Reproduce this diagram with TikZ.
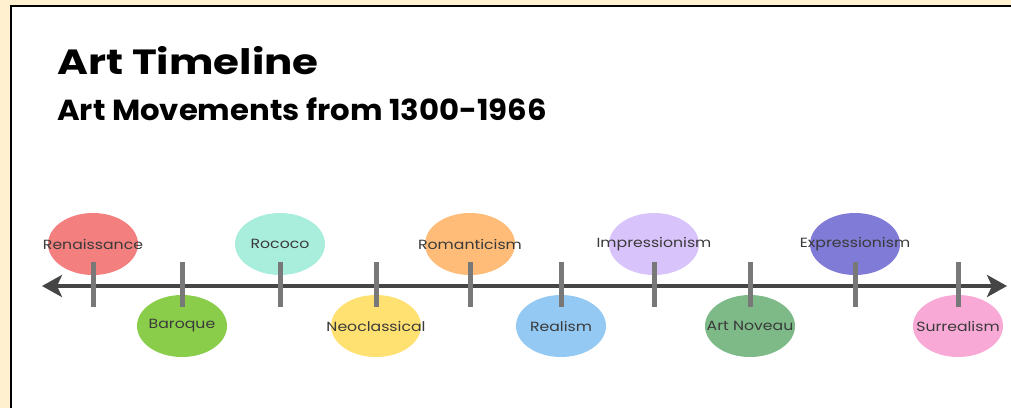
\documentclass[tikz,border=0pt]{standalone}
\usepackage{fontspec}
\setmainfont{Poppins}
\newfontfamily\lblfont[FakeStretch=1.18]{Poppins}
\newfontfamily\ttlfont[FakeStretch=1.2]{Poppins}
\newfontfamily\subfont[FakeStretch=1.06]{Poppins}
\usetikzlibrary{arrows.meta,shapes.geometric}
\definecolor{cream}{HTML}{FFF1CF}
\definecolor{axisgray}{HTML}{454545}
\definecolor{tickgray}{HTML}{787878}
\definecolor{labelgray}{HTML}{3A3A3A}
\definecolor{cRen}{HTML}{F47F7F}
\definecolor{cBar}{HTML}{8ACD4B}
\definecolor{cRoc}{HTML}{A9EEDC}
\definecolor{cNeo}{HTML}{FFE172}
\definecolor{cRom}{HTML}{FFBC78}
\definecolor{cRea}{HTML}{93C9F3}
\definecolor{cImp}{HTML}{D8C3FA}
\definecolor{cArt}{HTML}{7DBA88}
\definecolor{cExp}{HTML}{807BD6}
\definecolor{cSur}{HTML}{F9A9D5}
\tikzset{
  blob/.style={ellipse, minimum width=90pt, minimum height=62pt, inner sep=0pt, draw=none},
  lbl/.style={font=\lblfont\fontsize{13.3}{15}\selectfont, text=labelgray},
  tickline/.style={draw=tickgray, line width=5pt},
  axisline/.style={draw=axisgray, line width=4pt, {Stealth[length=20pt,width=22pt,inset=5pt]}-{Stealth[length=20pt,width=22pt,inset=5pt]}},
}
\begin{document}
\begin{tikzpicture}[x=1pt,y=-1pt]
\useasboundingbox (0,0) rectangle (1011,408);
\fill[cream] (0,0) rectangle (1011,408);
\fill[white] (11,6) rectangle (1011,408);
\draw[black, line width=2.5pt] (11,408) -- (11,6) -- (1011,6);
\node[anchor=base west, inner sep=0pt, font=\ttlfont\fontsize{35}{38}\selectfont\bfseries, text=black] (title) at (57,74) {Art Timeline};
\node[anchor=base west, inner sep=0pt, font=\subfont\fontsize{29}{32}\selectfont\bfseries, text=black] (sub) at (57,120) {Art Movements from 1300-1966};
% circles
\node[blob, fill=cRen] (ren) at (93,244) {};
\node[blob, fill=cBar] (bar) at (182,326) {};
\node[blob, fill=cRoc] (roc) at (280,244) {};
\node[blob, fill=cNeo] (neo) at (376,326) {};
\node[blob, fill=cRom] (rom) at (470,244) {};
\node[blob, fill=cRea] (rea) at (561,326) {};
\node[blob, fill=cImp] (imp) at (654,244) {};
\node[blob, fill=cArt] (art) at (750,326) {};
\node[blob, fill=cExp] (exp) at (855,244) {};
\node[blob, fill=cSur] (sur) at (958,326) {};
% axis
\coordinate (aL) at (42,286);
\coordinate (aR) at (1007,286);
\draw[axisline] (aL) -- (aR);
% ticks
\foreach \n/\x in {t1/93,t2/182,t3/280,t4/376,t5/470,t6/561,t7/654,t8/750,t9/855,t10/958}{
  \coordinate (\n a) at (\x,262);
  \coordinate (\n b) at (\x,307);
  \draw[tickline] (\n a) -- (\n b);
}
% labels
\node[lbl] (lren) at (ren.center) {Renaissance};
\node[lbl] (lbar) at (bar.center) {Baroque};
\node[lbl] (lroc) at (roc.center) {Rococo};
\node[lbl] (lneo) at (neo.center) {Neoclassical};
\node[lbl] (lrom) at (rom.center) {Romanticism};
\node[lbl] (lrea) at (rea.center) {Realism};
\node[lbl] (limp) at (imp.center) {Impressionism};
\node[lbl] (lart) at (art.center) {Art Noveau};
\node[lbl] (lexp) at (exp.center) {Expressionism};
\node[lbl] (lsur) at (sur.center) {Surrealism};
\end{tikzpicture}
\end{document}
